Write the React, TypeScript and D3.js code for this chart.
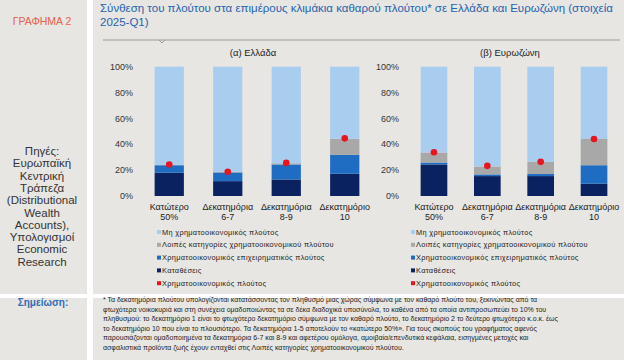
import React from "react";
import * as d3 from "d3";

const categories: string[][] = [
  ["Κατώτερο", "50%"],
  ["Δεκατημόρια", "6-7"],
  ["Δεκατημόρια", "8-9"],
  ["Δεκατημόριο", "10"],
];

// Greece (values in %)
const grDeposits = [18.0, 11.5, 12.8, 17.2];
const grBusiness = [5.8, 6.7, 11.6, 14.6];
const grOther = [0.3, 0.5, 0.9, 12.5];
const grNonFinancial = [75.9, 81.3, 74.7, 55.7];
const grFinancial = [24.4, 18.7, 25.6, 44.6];

// Euro area (values in %)
const euDeposits = [24.4, 15.4, 15.4, 9.5];
const euBusiness = [1.5, 1.3, 1.6, 14.3];
const euOther = [7.7, 6.1, 9.4, 20.3];
const euNonFinancial = [66.4, 77.2, 73.6, 55.9];
const euFinancial = [33.8, 23.3, 26.4, 44.1];

const yTicks = [0, 20, 40, 60, 80, 100];

const seriesNames = [
  "Μη χρηματοοικονομικός πλούτος",
  "Λοιπές κατηγορίες χρηματοοικονομικού πλούτου",
  "Χρηματοοικονομικός επιχειρηματικός πλούτος",
  "Καταθέσεις",
  "Χρηματοοικονομικός πλούτος",
];

const titleLines = [
  "Σύνθεση του πλούτου στα επιμέρους κλιμάκια καθαρού πλούτου* σε Ελλάδα και Ευρωζώνη (στοιχεία",
  "2025-Q1)",
];

const sourceLines = [
  "Πηγές:",
  "Ευρωπαϊκή",
  "Κεντρική",
  "Τράπεζα",
  "(Distributional",
  "Wealth",
  "Accounts),",
  "Υπολογισμοί",
  "Economic",
  "Research",
];

const noteLines = [
  "* Τα δεκατημόρια πλούτου υπολογίζονται κατατάσσοντας τον πληθυσμό μιας χώρας σύμφωνα με τον καθαρό πλούτο του, ξεκινώντας από τα",
  "φτωχότερα νοικοκυριά και στη συνέχεια ομαδοποιώντας τα σε δέκα διαδοχικά υποσύνολα, το καθένα από τα οποία αντιπροσωπεύει το 10% του",
  "πληθυσμού: το δεκατημόριο 1 είναι το φτωχότερο δεκατημόριο σύμφωνα με τον καθαρό πλούτο, το δεκατημόριο 2 το δεύτερο φτωχότερο κ.ο.κ. έως",
  "το δεκατημόριο  10 που είναι το πλουσιότερο. Τα δεκατημόρια  1-5 αποτελούν το «κατώτερο 50%». Για τους σκοπούς του γραφήματος  αφενός",
  "παρουσιάζονται ομαδοποιημένα  τα δεκατημόρια 6-7 και 8-9 και αφετέρου ομόλογα, αμοιβαία/επενδυτικά κεφάλαια, εισηγμένες μετοχές και",
  "ασφαλιστικά προϊόντα ζωής έχουν ενταχθεί στις Λοιπές κατηγορίες χρηματοοικονομικού πλούτου.",
];

const COLORS = {
  nonfin: "#a9cdef",
  other: "#a8a8a8",
  business: "#1f6dc2",
  deposits: "#0b2260",
  dot: "#e8141e",
};
const seriesColors = [COLORS.nonfin, COLORS.other, COLORS.business, COLORS.deposits, COLORS.dot];

const FONT = "'Liberation Sans', Arial, sans-serif";
const BG = "#e7e6e3";

type PanelProps = {
  title: string;
  x0: number;
  x1: number;
  labelX: number;
  legendX: number;
  deposits: number[];
  business: number[];
  other: number[];
  nonfin: number[];
  financial: number[];
};

function Panel(p: PanelProps) {
  const x = d3
    .scaleBand<number>()
    .domain(d3.range(categories.length))
    .range([p.x0, p.x1])
    .paddingInner(0.5)
    .paddingOuter(0.25);
  const y = d3.scaleLinear().domain([0, 100]).range([196, 66.7]);

  const rows = categories.map((_, i) => ({
    deposits: p.deposits[i],
    business: p.business[i],
    other: p.other[i],
    nonfin: p.nonfin[i],
  }));
  const keys = ["deposits", "business", "other", "nonfin"];
  const stack = d3.stack<any>().keys(keys)(rows);
  const colorFor: Record<string, string> = {
    deposits: COLORS.deposits,
    business: COLORS.business,
    other: COLORS.other,
    nonfin: COLORS.nonfin,
  };
  const cx = (i: number) => (x(i) as number) + x.bandwidth() / 2;

  return (
    <g>
      <text x={(p.x0 + p.x1) / 2 - 4} y={56} textAnchor="middle" fontSize={9.5} fill="#222" fontFamily={FONT}>
        {p.title}
      </text>
      {yTicks.map((t) => (
        <text key={t} x={p.labelX} y={y(t)} dy="0.35em" textAnchor="end" fontSize={9} fill="#333" fontFamily={FONT}>
          {t}%
        </text>
      ))}
      {stack.map((s) => (
        <g key={s.key} fill={colorFor[s.key]}>
          {s.map((d, i) => (
            <rect key={i} x={x(i)} width={x.bandwidth()} y={y(d[1])} height={Math.max(0, y(d[0]) - y(d[1]))} />
          ))}
        </g>
      ))}
      {p.financial.map((v, i) => (
        <circle key={i} cx={cx(i)} cy={y(v)} r={3.3} fill={COLORS.dot} />
      ))}
      {categories.map((c, i) => (
        <g key={i}>
          <text x={cx(i)} y={209.5} textAnchor="middle" fontSize={9} fill="#222" fontFamily={FONT}>
            {c[0]}
          </text>
          <text x={cx(i)} y={219.5} textAnchor="middle" fontSize={9} fill="#222" fontFamily={FONT}>
            {c[1]}
          </text>
        </g>
      ))}
      {seriesNames.map((n, i) => (
        <g key={n}>
          <rect x={p.legendX - 2} y={232 + i * 12.8 - 2} width={4} height={4} fill={seriesColors[i]} />
          <text x={p.legendX + 3} y={232 + i * 12.8} dy="0.35em" fontSize={7.4} letterSpacing={0.3} fill="#222" fontFamily={FONT}>
            {n}
          </text>
        </g>
      ))}
    </g>
  );
}

export default function App() {
  return (
    <svg width={624} height={360} style={{ display: "block", position: "absolute", left: 0, top: 0 }}>
      <rect x={0} y={0} width={624} height={360} fill="#fff" />
      <rect x={0} y={0} width={87} height={294} fill={BG} />
      <rect x={93} y={0} width={531} height={294} fill={BG} />
      <rect x={0} y={298} width={87} height={62} fill={BG} />
      <rect x={93} y={298} width={531} height={62} fill={BG} />

      <text x={42} y={25} textAnchor="middle" fontSize={10.5} fill="#e8604c" fontFamily={FONT}>
        ΓΡΑΦΗΜΑ 2
      </text>

      {titleLines.map((t, i) => (
        <text key={i} x={100} y={11.5 + i * 14.5} fontSize={11.5} fill="#2563ae" fontFamily={FONT}>
          {t}
        </text>
      ))}
      <path d="M103,40 H620" stroke="#9a9a9a" strokeWidth={1} />
      <path d="M159,40 L162,43 L165,40" stroke="#9a9a9a" strokeWidth={1} fill="none" />

      {sourceLines.map((t, i) => (
        <text key={i} x={42} y={151 + i * 12.3} dy="0.35em" textAnchor="middle" fontSize={11.5} fill="#333" fontFamily={FONT}>
          {t}
        </text>
      ))}

      <Panel
        title="(α) Ελλάδα"
        x0={140}
        x1={374}
        labelX={133}
        legendX={159}
        deposits={grDeposits}
        business={grBusiness}
        other={grOther}
        nonfin={grNonFinancial}
        financial={grFinancial}
      />
      <Panel
        title="(β) Ευρωζώνη"
        x0={407.3}
        x1={620.7}
        labelX={399}
        legendX={413}
        deposits={euDeposits}
        business={euBusiness}
        other={euOther}
        nonfin={euNonFinancial}
        financial={euFinancial}
      />

      <text x={43} y={306} textAnchor="middle" fontSize={10} fontWeight="bold" fill="#2f6db4" fontFamily={FONT}>
        Σημείωση:
      </text>
      {noteLines.map((t, i) => (
        <text key={i} x={103} y={302 + i * 9.5} fontSize={7} fill="#222" fontFamily={FONT}>
          {t}
        </text>
      ))}
    </svg>
  );
}
